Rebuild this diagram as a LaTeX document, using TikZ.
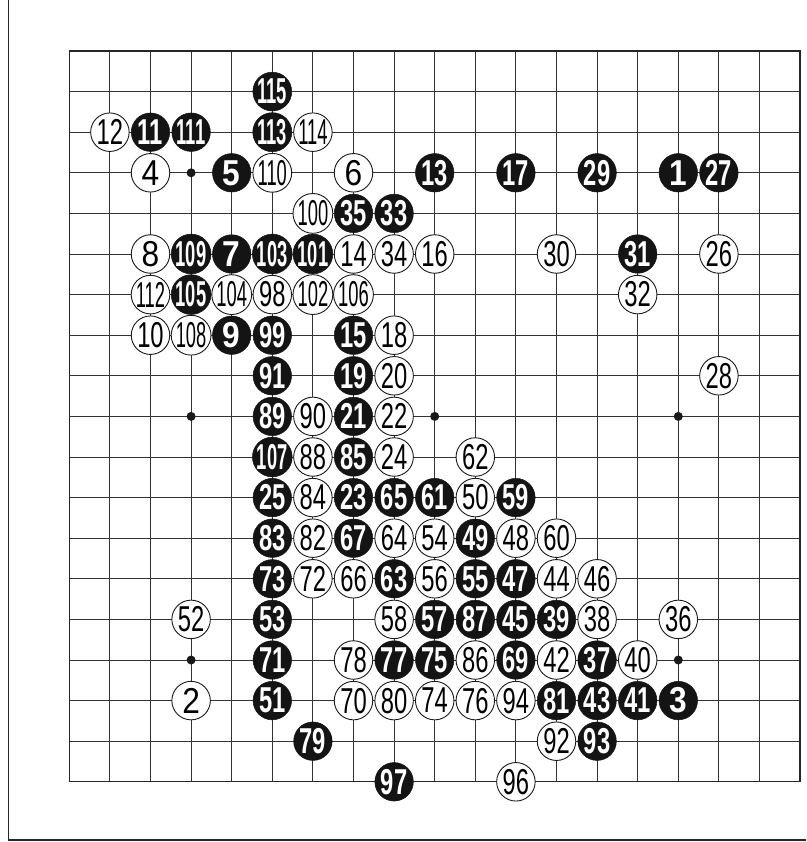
\documentclass[tikz,border=0pt]{standalone}
\usepackage{fontspec}
\usepackage{graphicx}
\setmainfont{Liberation Sans}
\newcommand\golbl[1]{\ifnum#1<10 \scalebox{0.88}[1]{#1}\else\ifnum#1<100 \scalebox{0.66}[1]{#1}\else\scalebox{0.51}[1]{#1}\fi\fi}
\begin{document}
\begin{tikzpicture}[x=1pt,y=-1pt,
  gridline/.style={draw=black!80,line width=0.9pt},
  boardedge/.style={draw=black!85,line width=1.3pt},
  frameline/.style={draw=black!85,line width=1.4pt},
  starpt/.style={circle,fill=black!90,inner sep=0pt,minimum size=9pt},
  wst/.style={circle,draw=black!90,line width=0.9pt,fill=white,minimum size=38.5pt,inner sep=0pt,text=black,font=\fontsize{36}{36}\selectfont},
  bst/.style={circle,fill=black!92,draw=black!92,line width=0.5pt,minimum size=38.5pt,inner sep=0pt,text=white,font=\bfseries\fontsize{36}{36}\selectfont}]
\useasboundingbox (0,0) rectangle (806,842);
% outer frame
\draw[frameline] (8.3,0) -- (8.3,840) -- (806,840);
% grid
\foreach \i in {1,...,17} {
  \draw[gridline] ({69.3+40.6*\i},51) -- ({69.3+40.6*\i},781.8);
  \draw[gridline] (69.3,{51+40.6*\i}) -- (800.1,{51+40.6*\i});
}
\draw[boardedge] (69.3,51) rectangle (800.1,781.8);
% star points
\foreach \c in {3,9,15} \foreach \r in {3,9,15}
  \node[starpt] (h\c-\r) at ({69.3+40.6*\c},{51+40.6*\r}) {};
% black stones
\foreach \n/\c/\r in {115/5/1, 11/2/2, 111/3/2, 113/5/2, 5/4/3, 13/9/3, 17/11/3, 29/13/3, 1/15/3, 27/16/3,
  35/7/4, 33/8/4, 109/3/5, 7/4/5, 103/5/5, 101/6/5, 31/14/5, 105/3/6, 9/4/7, 99/5/7, 15/7/7,
  91/5/8, 19/7/8, 89/5/9, 21/7/9, 107/5/10, 85/7/10, 25/5/11, 23/7/11, 65/8/11, 61/9/11, 59/11/11,
  83/5/12, 67/7/12, 49/10/12, 73/5/13, 63/8/13, 55/10/13, 47/11/13, 53/5/14, 57/9/14, 87/10/14,
  45/11/14, 39/12/14, 71/5/15, 77/8/15, 75/9/15, 69/11/15, 37/13/15, 51/5/16, 81/12/16, 43/13/16,
  41/14/16, 3/15/16, 79/6/17, 93/13/17, 97/8/18}
  \node[bst] (s\n) at ({69.3+40.6*\c},{51+40.6*\r}) {\golbl{\n}};
% white stones
\foreach \n/\c/\r in {12/1/2, 114/6/2, 4/2/3, 110/5/3, 6/7/3, 100/6/4, 8/2/5, 14/7/5, 34/8/5, 16/9/5,
  30/12/5, 26/16/5, 112/2/6, 104/4/6, 98/5/6, 102/6/6, 106/7/6, 32/14/6, 10/2/7, 108/3/7, 18/8/7,
  20/8/8, 28/16/8, 90/6/9, 22/8/9, 88/6/10, 24/8/10, 62/10/10, 84/6/11, 50/10/11, 82/6/12, 64/8/12,
  54/9/12, 48/11/12, 60/12/12, 72/6/13, 66/7/13, 56/9/13, 44/12/13, 46/13/13, 52/3/14, 58/8/14,
  38/13/14, 36/15/14, 78/7/15, 86/10/15, 42/12/15, 40/14/15, 2/3/16, 70/7/16, 80/8/16, 74/9/16,
  76/10/16, 94/11/16, 92/12/17, 96/11/18}
  \node[wst] (s\n) at ({69.3+40.6*\c},{51+40.6*\r}) {\golbl{\n}};
\end{tikzpicture}
\end{document}
